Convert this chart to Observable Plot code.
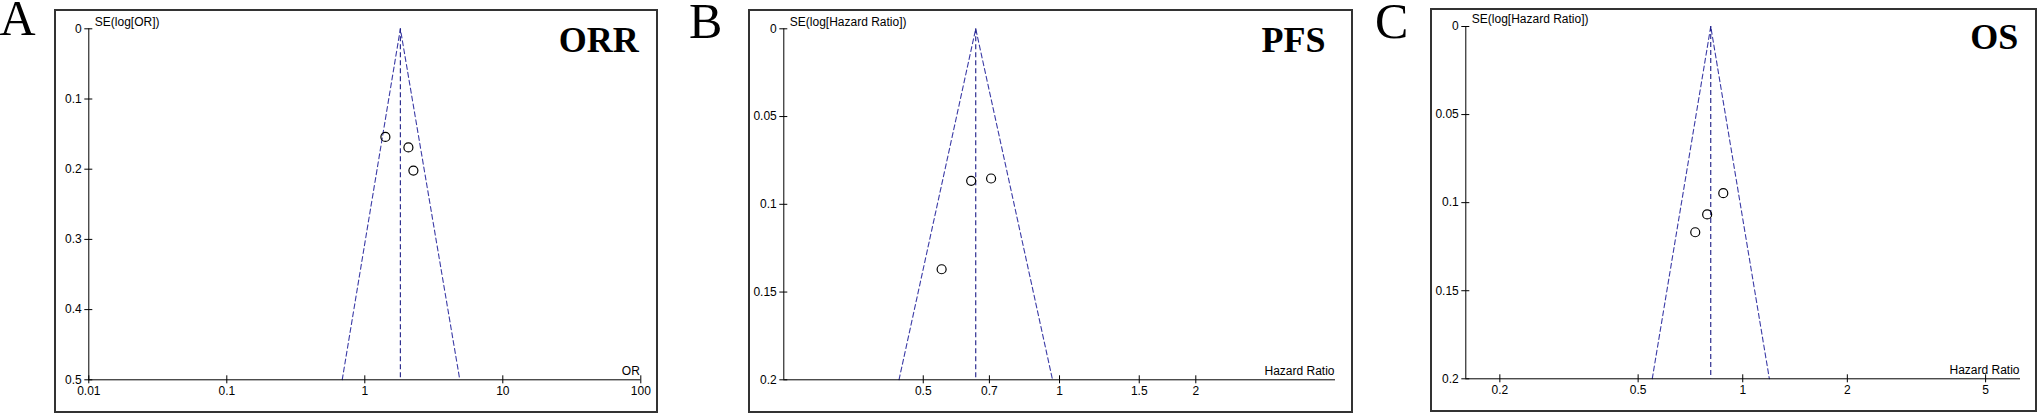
<!DOCTYPE html>
<html>
<head>
<meta charset="utf-8">
<script src="https://cdn.jsdelivr.net/npm/d3@7"></script>
<script src="https://cdn.jsdelivr.net/npm/@observablehq/plot@0.6"></script>
<style>
  html, body { margin: 0; padding: 0; background: #fff; overflow: hidden; }
  #root { position: relative; width: 2038px; height: 413px; }
  .frame { position: absolute; box-sizing: border-box; border: 2px solid #333; }
  .panel { position: absolute; top: 0; }
  #letters { position: absolute; left: 0; top: 0; }
</style>
</head>
<body>
<div id="root"></div>
<script>
// ---------- Data ----------
// Panel A: ORR
const orrOR = [1.41, 2.07, 2.25];
const orrSE = [0.154, 0.169, 0.202];
const orrPooled = 1.81;
const orrFunnelX = [0.686, 1.81, 4.88];
const orrFunnelSE = [0.5, 0, 0.5];
const orrXTicks = [0.01, 0.1, 1, 10, 100];
const orrXLabels = ["0.01", "0.1", "1", "10", "100"];
const orrYTicks = [0, 0.1, 0.2, 0.3, 0.4, 0.5];
const orrYLabels = ["0", "0.1", "0.2", "0.3", "0.4", "0.5"];

// Panel B: PFS
const pfsHR = [0.638, 0.706, 0.549];
const pfsSE = [0.0866, 0.0853, 0.137];
const pfsPooled = 0.653;
const pfsFunnelX = [0.442, 0.653, 0.965];
const pfsFunnelSE = [0.2, 0, 0.2];
const pfsXTicks = [0.5, 0.7, 1, 1.5, 2];
const pfsXLabels = ["0.5", "0.7", "1", "1.5", "2"];
const pfsYTicks = [0, 0.05, 0.1, 0.15, 0.2];
const pfsYLabels = ["0", "0.05", "0.1", "0.15", "0.2"];

// Panel C: OS
const osHR = [0.879, 0.790, 0.730];
const osSE = [0.0946, 0.1067, 0.1168];
const osPooled = 0.809;
const osFunnelX = [0.549, 0.809, 1.193];
const osFunnelSE = [0.2, 0, 0.2];
const osXTicks = [0.2, 0.5, 1, 2, 5];
const osXLabels = ["0.2", "0.5", "1", "2", "5"];
const osYTicks = [0, 0.05, 0.1, 0.15, 0.2];
const osYLabels = ["0", "0.05", "0.1", "0.15", "0.2"];

const panelLetters = ["A", "B", "C"];
const panelTitles = ["ORR", "PFS", "OS"];
const yAxisLabels = ["SE(log[OR])", "SE(log[Hazard Ratio])", "SE(log[Hazard Ratio])"];
const xAxisLabels = ["OR", "Hazard Ratio", "Hazard Ratio"];

// ---------- Layout ----------
const root = document.getElementById("root");
const H = 413;

const panels = [
  {
    letter: panelLetters[0], title: panelTitles[0], yLabel: yAxisLabels[0], xLabel: xAxisLabels[0],
    est: orrOR, se: orrSE, pooled: orrPooled, fx: orrFunnelX, fse: orrFunnelSE,
    xTicks: orrXTicks, xLabels: orrXLabels, yTicks: orrYTicks, yLabels: orrYLabels,
    xDomain: [0.01, 100], yMax: 0.5,
    left: 54, width: 604, mt: 28.3, mb: 413 - 379.3, ml: 34.3, mr: 17.7,
    frame: {left: 54, top: 9, width: 604, height: 404},
    titleDx: -2, titleDy: 11.9,
    letterX: -0.5, letterY: 34.5
  },
  {
    letter: panelLetters[1], title: panelTitles[1], yLabel: yAxisLabels[1], xLabel: xAxisLabels[1],
    est: pfsHR, se: pfsSE, pooled: pfsPooled, fx: pfsFunnelX, fse: pfsFunnelSE,
    xTicks: pfsXTicks, xLabels: pfsXLabels, yTicks: pfsYTicks, yLabels: pfsYLabels,
    xDomain: [0.246, 4.07], yMax: 0.2,
    left: 748, width: 605, mt: 28.3, mb: 413 - 379.3, ml: 35.3, mr: 18,
    frame: {left: 748, top: 9, width: 605, height: 404},
    titleDx: -10, titleDy: 11.9,
    letterX: 689, letterY: 38
  },
  {
    letter: panelLetters[2], title: panelTitles[2], yLabel: yAxisLabels[2], xLabel: xAxisLabels[2],
    est: osHR, se: osSE, pooled: osPooled, fx: osFunnelX, fse: osFunnelSE,
    xTicks: osXTicks, xLabels: osXLabels, yTicks: osYTicks, yLabels: osYLabels,
    xDomain: [0.1596, 6.3], yMax: 0.2,
    left: 1430, width: 608, mt: 26, mb: 413 - 378.3, ml: 35.3, mr: 18,
    frame: {left: 1430, top: 7.5, width: 607, height: 404},
    titleDx: -2.3, titleDy: 10.8,
    letterX: 1375, letterY: 37.5
  }
];

// Panel letters (A, B, C)
const lettersSvg = d3.select(root).append("svg")
  .attr("id", "letters").attr("width", 2038).attr("height", H);
lettersSvg.selectAll("text").data(panels).join("text")
  .attr("x", d => d.letterX).attr("y", d => d.letterY)
  .attr("font-family", "'Liberation Serif', 'Times New Roman', serif")
  .attr("font-size", 50)
  .attr("fill", "#000")
  .text(d => d.letter);

const funnelColor = "#3b3ba6";
const centerColor = "#1c1c86";

panels.forEach(p => {
  const frame = document.createElement("div");
  frame.className = "frame";
  Object.assign(frame.style, {
    left: p.frame.left + "px", top: p.frame.top + "px",
    width: p.frame.width + "px", height: p.frame.height + "px"
  });
  root.appendChild(frame);

  const xmin = p.xDomain[0], xmax = p.xDomain[1];
  const ymax = p.yMax;
  const points = p.est.map((v, i) => ({x: v, se: p.se[i]}));
  const funnel = p.fx.map((v, i) => ({x: v, se: p.fse[i]}));

  const chart = Plot.plot({
    width: p.width,
    height: H,
    marginTop: p.mt,
    marginBottom: p.mb,
    marginLeft: p.ml,
    marginRight: p.mr,
    style: {fontFamily: "'Liberation Sans', Arial, sans-serif", fontSize: "12px", background: "transparent", color: "#000"},
    x: {type: "log", domain: p.xDomain, axis: null},
    y: {domain: [0, ymax], reverse: true, axis: null},
    marks: [
      // funnel (pseudo 95% CI) lines
      Plot.line(funnel, {x: "x", y: "se", stroke: funnelColor, strokeWidth: 1.1, strokeDasharray: "5,3"}),
      // pooled estimate
      Plot.ruleX([p.pooled], {stroke: centerColor, strokeWidth: 1.1, strokeDasharray: "5,3"}),
      // axis lines
      Plot.ruleX([xmin], {stroke: "#000"}),
      Plot.ruleY([ymax], {stroke: "#000"}),
      // ticks crossing the axes
      Plot.ruleX(p.xTicks, {x: d => d, y1: ymax, y2: ymax, insetTop: -4, insetBottom: -4, stroke: "#000"}),
      Plot.ruleY(p.yTicks, {y: d => d, x1: xmin, x2: xmin, insetLeft: -4, insetRight: -4, stroke: "#000"}),
      // tick labels
      Plot.text(p.xTicks, {x: d => d, y: ymax, text: (d, i) => p.xLabels[i], dy: 11, fill: "#000"}),
      Plot.text(p.yTicks, {x: xmin, y: d => d, text: (d, i) => p.yLabels[i], textAnchor: "end", dx: -7, fill: "#000"}),
      // axis titles
      Plot.text([p.yLabel], {x: xmin, y: 0, text: d => d, textAnchor: "start", dx: 6, dy: -7, fill: "#000"}),
      Plot.text([p.xLabel], {x: xmax, y: ymax, text: d => d, textAnchor: "end", dx: -1, dy: -9, fill: "#000"}),
      // studies
      Plot.dot(points, {x: "x", y: "se", r: 4.5, stroke: "#000", strokeWidth: 1.2, fill: "none"}),
      // panel title
      Plot.text([p.title], {x: xmax, y: 0, text: d => d, textAnchor: "end", dx: p.titleDx, dy: p.titleDy,
        fontSize: 36, fontWeight: "bold", fontFamily: "'Liberation Serif', 'Times New Roman', serif", fill: "#000"})
    ]
  });
  chart.classList.add("panel");
  chart.style.left = p.left + "px";
  chart.style.position = "absolute";
  root.appendChild(chart);
});
</script>
</body>
</html>
